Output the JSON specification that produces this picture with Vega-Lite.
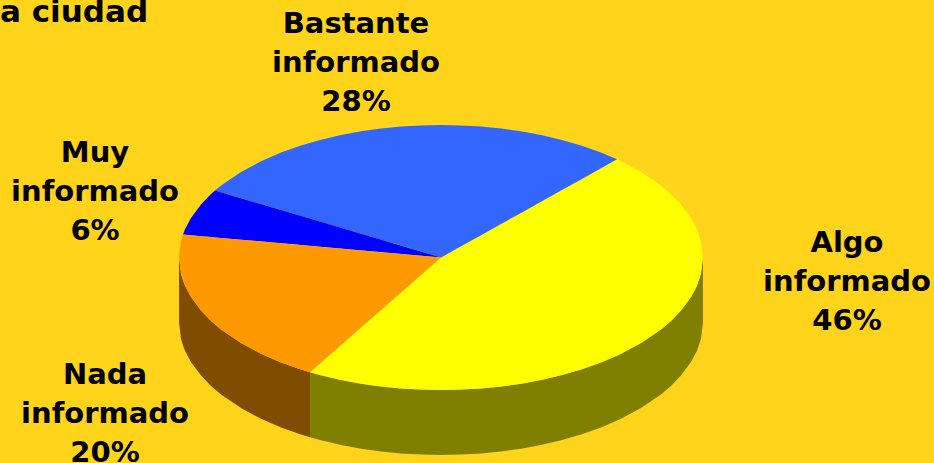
{"$schema":"https://vega.github.io/schema/vega-lite/v6.json","autosize":{"type":"none"},"width":934,"height":463,"padding":0,"background":"#FFD41A","config":{"view":{"stroke":null}},"datasets":{"walls":[
{"part":"Nada wall","x":179,"y":257.5,"y2":322.5},{"part":"Nada wall","x":181,"y":273.8,"y2":338.8},{"part":"Nada wall","x":183,"y":280.5,"y2":345.5},{"part":"Nada wall","x":185,"y":285.7,"y2":350.7},{"part":"Nada wall","x":191,"y":297.1,"y2":362.1},{"part":"Nada wall","x":201,"y":310.6,"y2":375.6},{"part":"Nada wall","x":211,"y":321,"y2":386},{"part":"Nada wall","x":221,"y":329.5,"y2":394.5},{"part":"Nada wall","x":241,"y":343.1,"y2":408.1},{"part":"Nada wall","x":261,"y":353.8,"y2":418.8},{"part":"Nada wall","x":281,"y":362.4,"y2":427.4},{"part":"Nada wall","x":301,"y":369.5,"y2":434.5},{"part":"Nada wall","x":310,"y":372.25,"y2":437.25},
{"part":"Algo wall","x":310,"y":372.25,"y2":437.25},{"part":"Algo wall","x":321,"y":375.3,"y2":440.3},{"part":"Algo wall","x":341,"y":380,"y2":445},{"part":"Algo wall","x":361,"y":383.7,"y2":448.7},{"part":"Algo wall","x":381,"y":386.5,"y2":451.5},{"part":"Algo wall","x":401,"y":388.4,"y2":453.4},{"part":"Algo wall","x":421,"y":389.6,"y2":454.6},{"part":"Algo wall","x":441,"y":390,"y2":455},{"part":"Algo wall","x":461,"y":389.6,"y2":454.6},{"part":"Algo wall","x":481,"y":388.4,"y2":453.4},{"part":"Algo wall","x":501,"y":386.5,"y2":451.5},{"part":"Algo wall","x":521,"y":383.7,"y2":448.7},{"part":"Algo wall","x":541,"y":380,"y2":445},{"part":"Algo wall","x":561,"y":375.3,"y2":440.3},{"part":"Algo wall","x":581,"y":369.5,"y2":434.5},{"part":"Algo wall","x":601,"y":362.4,"y2":427.4},{"part":"Algo wall","x":621,"y":353.8,"y2":418.8},{"part":"Algo wall","x":641,"y":343.1,"y2":408.1},{"part":"Algo wall","x":661,"y":329.5,"y2":394.5},{"part":"Algo wall","x":671,"y":321,"y2":386},{"part":"Algo wall","x":681,"y":310.6,"y2":375.6},{"part":"Algo wall","x":691,"y":297.1,"y2":362.1},{"part":"Algo wall","x":697,"y":285.7,"y2":350.7},{"part":"Algo wall","x":701,"y":273.8,"y2":338.8},{"part":"Algo wall","x":703,"y":257.5,"y2":322.5}
],"tops":[
{"part":"Algo","x":310,"y":372.25,"y2":372.25},{"part":"Algo","x":321,"y":362.6,"y2":375.3},{"part":"Algo","x":341,"y":345.1,"y2":380},{"part":"Algo","x":361,"y":327.6,"y2":383.7},{"part":"Algo","x":381,"y":310.1,"y2":386.5},{"part":"Algo","x":401,"y":292.5,"y2":388.4},{"part":"Algo","x":421,"y":275,"y2":389.6},{"part":"Algo","x":441,"y":257.5,"y2":390},{"part":"Algo","x":461,"y":246.3,"y2":389.6},{"part":"Algo","x":481,"y":235.2,"y2":388.4},{"part":"Algo","x":501,"y":224,"y2":386.5},{"part":"Algo","x":521,"y":212.9,"y2":383.7},{"part":"Algo","x":541,"y":201.7,"y2":380},{"part":"Algo","x":561,"y":190.5,"y2":375.3},{"part":"Algo","x":581,"y":179.4,"y2":369.5},{"part":"Algo","x":601,"y":168.2,"y2":362.4},{"part":"Algo","x":617,"y":159.3,"y2":355.7},{"part":"Algo","x":621,"y":161.2,"y2":353.8},{"part":"Algo","x":641,"y":171.9,"y2":343.1},{"part":"Algo","x":661,"y":185.5,"y2":329.5},{"part":"Algo","x":671,"y":194,"y2":321},{"part":"Algo","x":681,"y":204.4,"y2":310.6},{"part":"Algo","x":691,"y":217.9,"y2":297.1},{"part":"Algo","x":697,"y":229.3,"y2":285.7},{"part":"Algo","x":701,"y":241.2,"y2":273.8},{"part":"Algo","x":703,"y":257.5,"y2":257.5},
{"part":"Bastante","x":215,"y":190.5,"y2":190.5},{"part":"Bastante","x":221,"y":185.5,"y2":192.3},{"part":"Bastante","x":241,"y":171.9,"y2":198.2},{"part":"Bastante","x":261,"y":161.2,"y2":204.1},{"part":"Bastante","x":281,"y":152.6,"y2":210.1},{"part":"Bastante","x":301,"y":145.5,"y2":216},{"part":"Bastante","x":321,"y":139.7,"y2":221.9},{"part":"Bastante","x":341,"y":135,"y2":227.9},{"part":"Bastante","x":361,"y":131.3,"y2":233.8},{"part":"Bastante","x":381,"y":128.5,"y2":239.7},{"part":"Bastante","x":401,"y":126.6,"y2":245.6},{"part":"Bastante","x":421,"y":125.4,"y2":251.6},{"part":"Bastante","x":441,"y":125,"y2":257.5},{"part":"Bastante","x":461,"y":125.4,"y2":246.3},{"part":"Bastante","x":481,"y":126.6,"y2":235.2},{"part":"Bastante","x":501,"y":128.5,"y2":224},{"part":"Bastante","x":521,"y":131.3,"y2":212.9},{"part":"Bastante","x":541,"y":135,"y2":201.7},{"part":"Bastante","x":561,"y":139.7,"y2":190.5},{"part":"Bastante","x":581,"y":145.5,"y2":179.4},{"part":"Bastante","x":601,"y":152.6,"y2":168.2},{"part":"Bastante","x":617,"y":159.3,"y2":159.3},
{"part":"Muy","x":183,"y":234.5,"y2":234.5},{"part":"Muy","x":185,"y":229.3,"y2":234.8},{"part":"Muy","x":191,"y":217.9,"y2":235.3},{"part":"Muy","x":201,"y":204.4,"y2":236.2},{"part":"Muy","x":211,"y":194,"y2":237.1},{"part":"Muy","x":215,"y":190.5,"y2":237.4},{"part":"Muy","x":441,"y":257.5,"y2":257.5},
{"part":"Nada","x":179,"y":257.5,"y2":257.5},{"part":"Nada","x":181,"y":241.2,"y2":273.8},{"part":"Nada","x":183,"y":234.5,"y2":280.5},{"part":"Nada","x":185,"y":234.8,"y2":285.7},{"part":"Nada","x":191,"y":235.3,"y2":297.1},{"part":"Nada","x":201,"y":236.2,"y2":310.6},{"part":"Nada","x":211,"y":237.1,"y2":321},{"part":"Nada","x":221,"y":238,"y2":329.5},{"part":"Nada","x":241,"y":239.7,"y2":343.1},{"part":"Nada","x":261,"y":241.5,"y2":353.8},{"part":"Nada","x":281,"y":243.3,"y2":362.4},{"part":"Nada","x":301,"y":245.1,"y2":369.5},{"part":"Nada","x":310,"y":245.9,"y2":372.25},{"part":"Nada","x":441,"y":257.5,"y2":257.5}
],"labels":[
{"label":"Bastante\ninformado\n28%","share":28,"x":356,"y":33},
{"label":"Muy\ninformado\n6%","share":6,"x":95,"y":162},
{"label":"Algo\ninformado\n46%","share":46,"x":847,"y":252},
{"label":"Nada\ninformado\n20%","share":20,"x":105,"y":384}
],"heading":[{"label":"a ciudad","x":0,"y":22}]},
"layer":[
{"data":{"name":"walls"},"mark":{"type":"area","interpolate":"linear","strokeWidth":0},
"encoding":{"x":{"field":"x","type":"quantitative","scale":{"domain":[0,934],"nice":false,"zero":false},"axis":null},"y":{"field":"y","type":"quantitative","scale":{"domain":[463,0],"nice":false,"zero":false},"axis":null,"stack":null},"y2":{"field":"y2"},"color":{"field":"part","type":"nominal","legend":null,"scale":{"domain":["Algo wall","Nada wall","Algo","Bastante","Muy","Nada"],"range":["#808000","#804C00","#FFFF00","#3366FF","#0000FF","#FF9900"]}}}},
{"data":{"name":"tops"},"mark":{"type":"area","interpolate":"linear","strokeWidth":0},
"encoding":{"x":{"field":"x","type":"quantitative","scale":{"domain":[0,934],"nice":false,"zero":false},"axis":null},"y":{"field":"y","type":"quantitative","scale":{"domain":[463,0],"nice":false,"zero":false},"axis":null,"stack":null},"y2":{"field":"y2"},"color":{"field":"part","type":"nominal","legend":null,"scale":{"domain":["Algo wall","Nada wall","Algo","Bastante","Muy","Nada"],"range":["#808000","#804C00","#FFFF00","#3366FF","#0000FF","#FF9900"]}}}},
{"data":{"name":"labels"},"mark":{"type":"text","font":"DejaVu Sans","fontWeight":"bold","fontSize":29,"align":"center","baseline":"alphabetic","lineBreak":"\n","lineHeight":39,"color":"#000000"},
"encoding":{"x":{"field":"x","type":"quantitative","scale":{"domain":[0,934],"nice":false,"zero":false},"axis":null},"y":{"field":"y","type":"quantitative","scale":{"domain":[463,0],"nice":false,"zero":false},"axis":null},"text":{"field":"label"}}},
{"data":{"name":"heading"},"mark":{"type":"text","font":"DejaVu Sans","fontWeight":"bold","fontSize":31,"align":"left","baseline":"alphabetic","color":"#000000"},
"encoding":{"x":{"field":"x","type":"quantitative","scale":{"domain":[0,934],"nice":false,"zero":false},"axis":null},"y":{"field":"y","type":"quantitative","scale":{"domain":[463,0],"nice":false,"zero":false},"axis":null},"text":{"field":"label"}}}
]}
